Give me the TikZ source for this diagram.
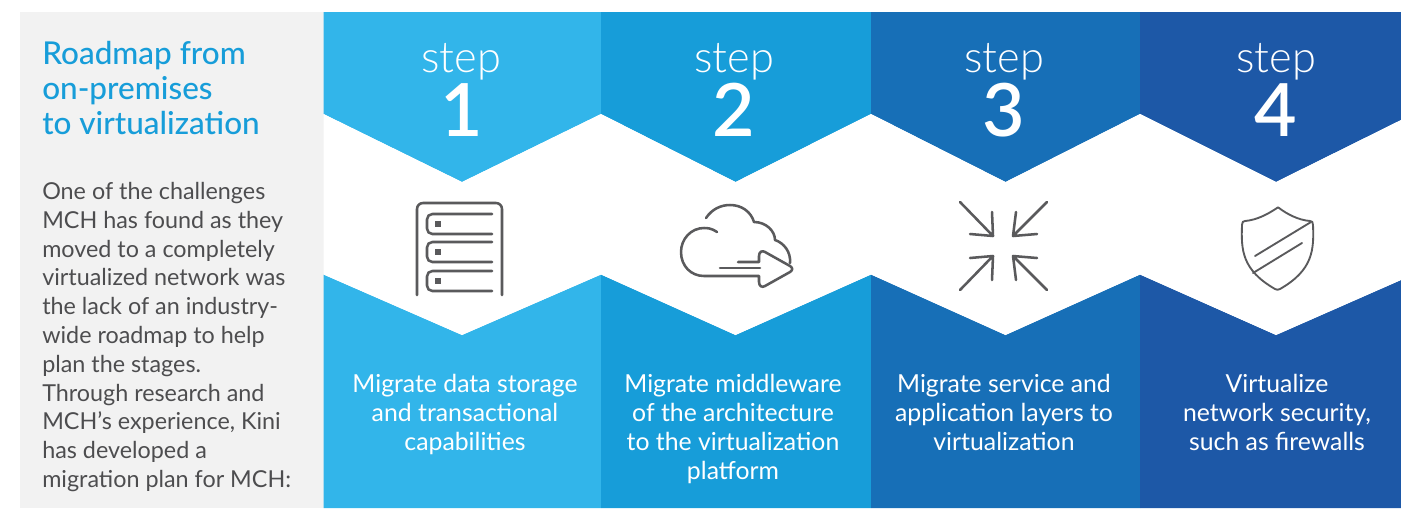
\documentclass[tikz,border=0pt]{standalone}
\usepackage{fontspec}
\setmainfont{Lato}
\newfontfamily\lightf{Lato Light}
\newfontfamily\medf{Lato Medium}
\newfontfamily\semif{Lato Semibold}
\definecolor{panel}{HTML}{F2F2F2}
\definecolor{c1}{HTML}{32B5EA}
\definecolor{c2}{HTML}{179DD9}
\definecolor{c3}{HTML}{176FB7}
\definecolor{c4}{HTML}{1D58A7}
\definecolor{bodyc}{HTML}{4D4D4F}
\definecolor{iconc}{HTML}{5A5A5C}
\tikzset{
  x=0.75pt,y=-0.75pt,
  steptxt/.style={text=white,font=\lightf\fontsize{32.5}{33}\selectfont,inner sep=0pt,anchor=base},
  numtxt/.style={text=white,font=\semif\fontsize{55}{56}\selectfont,inner sep=0pt,anchor=base},
  desc/.style={text=white,font=\fontsize{18.6}{21.75}\selectfont,inner sep=0pt,anchor=north,align=center},
  icon/.style={draw=iconc,line width=1.9pt,line cap=round,line join=round},
  iconthin/.style={draw=iconc,line width=1.4pt,line cap=round,line join=round},
}
\begin{document}
\begin{tikzpicture}
\useasboundingbox (0,0) rectangle (1401,508);
\fill[white] (0,0) rectangle (1401,508);
\fill[panel] (20,12) rectangle (324,508);
% columns
\fill[c1] (323.5,12) -- (601,12) -- (601,114) -- (462,182) -- (323.5,114) -- cycle;
\fill[c2] (601,12) -- (871,12) -- (871,114) -- (735.5,182) -- (601,114) -- cycle;
\fill[c3] (871,12) -- (1140,12) -- (1140,114) -- (1005.5,182) -- (871,114) -- cycle;
\fill[c4] (1140,12) -- (1401,12) -- (1401,120) -- (1276,182) -- (1140,114) -- cycle;
\fill[c1] (323.5,508) -- (601,508) -- (601,274.5) -- (462,335) -- (323.5,274.5) -- cycle;
\fill[c2] (601,508) -- (871,508) -- (871,274.5) -- (735.5,335) -- (601,274.5) -- cycle;
\fill[c3] (871,508) -- (1140,508) -- (1140,274.5) -- (1005.5,335) -- (871,274.5) -- cycle;
\fill[c4] (1140,508) -- (1401,508) -- (1401,280) -- (1276,335) -- (1140,274.5) -- cycle;
\fill[white] (323.5,114) -- (462,182) -- (601,114) -- (735.5,182) -- (871,114) -- (1005.5,182) -- (1140,114) -- (1276,182) -- (1401,120) -- (1401,280) -- (1276,335) -- (1140,274.5) -- (1005.5,335) -- (871,274.5) -- (735.5,335) -- (601,274.5) -- (462,335) -- (323.5,274.5) -- cycle;
% left panel
\node[anchor=north west,inner sep=0pt,align=left,text=c2,font=\medf\fontsize{23.6}{26.25}\selectfont] (title) at (42,41) {Roadmap from\\on-premises\\to virtualization};
\node[anchor=north west,inner sep=0pt,align=left,text=bodyc,font=\fontsize{17.5}{21.6}\selectfont] (body) at (42,182) {One of the challenges\\MCH has found as they\\moved to a completely\\virtualized network was\\the lack of an industry-\\wide roadmap to help\\plan the stages.\\Through research and\\MCH’s experience, Kini\\has developed a\\migration plan for MCH:};
% steps
\node[steptxt] (s1) at (461,72) {step};
\node[numtxt] (n1) at (462,136) {1};
\node[steptxt] (s2) at (734,72) {step};
\node[numtxt] (n2) at (734,136) {2};
\node[steptxt] (s3) at (1004,72) {step};
\node[numtxt] (n3) at (1004,136) {3};
\node[steptxt] (s4) at (1276,72) {step};
\node[numtxt] (n4) at (1276,136) {4};
\node[desc] (d1) at (465,374) {Migrate data storage\\and transactional\\capabilities};
\node[desc] (d2) at (733,374) {Migrate middleware\\of the architecture\\to the virtualization\\platform};
\node[desc] (d3) at (1004,374) {Migrate service and\\application layers to\\virtualization};
\node[desc] (d4) at (1277,374) {Virtualize\\network security,\\such as firewalls};
% server icon
\draw[icon,rounded corners=4.5pt] (417,295) -- (417,203) -- (502,203) -- (502,295);
\foreach \yt in {214,242,271}{
  \draw[icon,rounded corners=4pt] (492,\yt) -- (427,\yt) -- (427,\yt+20) -- (492,\yt+20);
  \fill[iconc] (435,\yt+7) rectangle +(6,6);
}
% cloud icon
\draw[icon] (706,218) .. controls (712,209) and (721,205) .. (730,205) .. controls (742,205) and (751,212) .. (754,222) .. controls (766,222) and (775,231) .. (775,240) .. controls (784,243) and (791,252) .. (790,263);
\draw[icon] (717,232) .. controls (711,228) and (707,228) .. (704,228) .. controls (691,228) and (681,239) .. (681,252) .. controls (681,266) and (691,276) .. (704,276) -- (759,276) -- (759,282) .. controls (759,286) and (762,288) .. (765,286) -- (790,272) .. controls (793,270) and (793,268) .. (790,266) -- (765,252) .. controls (762,250) and (759,252) .. (759,256) -- (759,262) -- (738,262);
\draw[icon] (720,268) -- (760,268);
% arrows icon
\draw[icon] (960,202) -- (993,236) (992,212) -- (993,236) -- (970,234);
\draw[icon] (1047,202) -- (1013,236) (1016,212) -- (1013,236) -- (1037,234);
\draw[icon] (960,290) -- (993,256) (970,258) -- (993,256) -- (992,280);
\draw[icon] (1047,290) -- (1013,256) (1037,258) -- (1013,256) -- (1016,280);
% shield icon
\draw[iconthin] (1277,208) .. controls (1268,214) and (1257,220) .. (1245,221) .. controls (1243,221) and (1242,222) .. (1242,225) .. controls (1241,250) and (1242,270) .. (1275,289) .. controls (1277,290) and (1278,290) .. (1280,289) .. controls (1313,270) and (1314,250) .. (1313,225) .. controls (1313,222) and (1312,221) .. (1310,221) .. controls (1298,220) and (1287,214) .. (1279,208) .. controls (1278,207) and (1278,207) .. (1277,208) -- cycle;
\draw[iconthin] (1311,222) -- (1255,256);
\draw[iconthin] (1302,243) -- (1253,273);
\end{tikzpicture}
\end{document}
